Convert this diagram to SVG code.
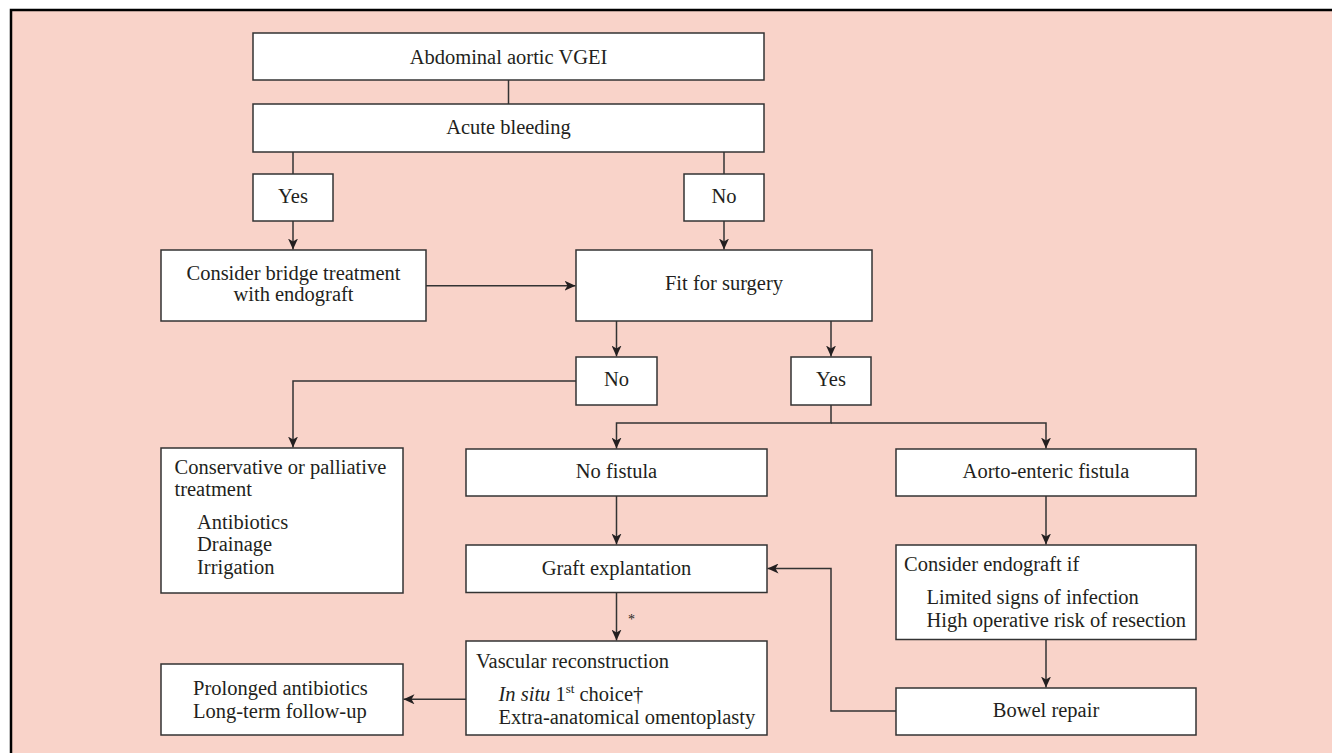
<svg xmlns="http://www.w3.org/2000/svg" width="1332" height="753" viewBox="0 0 1332 753">
<defs>
<style>
.box{fill:#ffffff;stroke:#333333;stroke-width:1.5}
.t{font-family:"Liberation Serif","Times New Roman",serif;font-size:20.5px;fill:#231f20}
.c{text-anchor:middle}
.ln{fill:none;stroke:#333333;stroke-width:1.5}
</style>
<marker id="ah" markerWidth="12" markerHeight="10" refX="11" refY="5" orient="auto" markerUnits="userSpaceOnUse">
<path d="M0,0 L11,5 L0,10 L3,5 Z" fill="#231f20"/>
</marker>
</defs>
<rect x="0" y="0" width="1332" height="753" fill="#ffffff"/>
<rect x="11" y="10" width="1330" height="750" fill="#f9d3c9"/>
<path d="M11,753 V10 H1332" fill="none" stroke="#000000" stroke-width="2.5"/>

<g id="connectors">
<line class="ln" x1="508.5" y1="80" x2="508.5" y2="104"/>
<line class="ln" x1="293" y1="152" x2="293" y2="174"/>
<line class="ln" x1="724" y1="152" x2="724" y2="174"/>
<line class="ln" x1="293" y1="221" x2="293" y2="249.5" marker-end="url(#ah)"/>
<line class="ln" x1="724" y1="221" x2="724" y2="249.5" marker-end="url(#ah)"/>
<line class="ln" x1="426" y1="285.7" x2="575.5" y2="285.7" marker-end="url(#ah)"/>
<line class="ln" x1="616.5" y1="321" x2="616.5" y2="356.5" marker-end="url(#ah)"/>
<line class="ln" x1="831" y1="321" x2="831" y2="356.5" marker-end="url(#ah)"/>
<path class="ln" d="M576,381 H293 V447.5" marker-end="url(#ah)"/>
<path class="ln" d="M831,405 V423 H616.5 V448.5" marker-end="url(#ah)"/>
<path class="ln" d="M831,423 H1046 V448.5" marker-end="url(#ah)"/>
<line class="ln" x1="616.5" y1="496" x2="616.5" y2="544.5" marker-end="url(#ah)"/>
<line class="ln" x1="1046" y1="496" x2="1046" y2="544.5" marker-end="url(#ah)"/>
<line class="ln" x1="1046" y1="639.5" x2="1046" y2="687.5" marker-end="url(#ah)"/>
<path class="ln" d="M896,711 H831 V568.5 H767.5" marker-end="url(#ah)"/>
<line class="ln" x1="616.5" y1="592.5" x2="616.5" y2="640.5" marker-end="url(#ah)"/>
<text class="t" x="628" y="624" font-size="14px" style="font-size:14px">*</text>
<line class="ln" x1="466" y1="699.3" x2="403.5" y2="699.3" marker-end="url(#ah)"/>
</g>

<g id="n-vgei"><rect class="box" x="253" y="33" width="511" height="47"/><text class="t c" x="508.5" y="63.5">Abdominal aortic VGEI</text></g>
<g id="n-acute"><rect class="box" x="253" y="104" width="511" height="48"/><text class="t c" x="508.5" y="134">Acute bleeding</text></g>
<g id="n-yes1"><rect class="box" x="253" y="174" width="80" height="47"/><text class="t c" x="293" y="202.5">Yes</text></g>
<g id="n-no1"><rect class="box" x="684" y="174" width="80" height="47"/><text class="t c" x="724" y="202.5">No</text></g>
<g id="n-bridge"><rect class="box" x="161" y="250" width="265" height="71"/><text class="t c" x="293.5" y="280">Consider bridge treatment</text><text class="t c" x="293.5" y="301">with endograft</text></g>
<g id="n-fit"><rect class="box" x="576" y="250" width="296" height="71"/><text class="t c" x="724" y="290">Fit for surgery</text></g>
<g id="n-no2"><rect class="box" x="576" y="357" width="81" height="48"/><text class="t c" x="616.5" y="386">No</text></g>
<g id="n-yes2"><rect class="box" x="791" y="357" width="80" height="48"/><text class="t c" x="831" y="386">Yes</text></g>
<g id="n-conservative"><rect class="box" x="161" y="448" width="242" height="145"/>
<text class="t" x="174.5" y="474">Conservative or palliative</text>
<text class="t" x="174.5" y="496">treatment</text>
<text class="t" x="197" y="528.5">Antibiotics</text>
<text class="t" x="197" y="551">Drainage</text>
<text class="t" x="197" y="574">Irrigation</text></g>
<g id="n-nofistula"><rect class="box" x="466" y="449" width="301" height="47"/><text class="t c" x="616.5" y="478">No fistula</text></g>
<g id="n-aorto"><rect class="box" x="896" y="449" width="300" height="47"/><text class="t c" x="1046" y="478">Aorto-enteric fistula</text></g>
<g id="n-graft"><rect class="box" x="466" y="545" width="301" height="47.5"/><text class="t c" x="616.5" y="574.5">Graft explantation</text></g>
<g id="n-endograft"><rect class="box" x="896" y="545" width="300" height="94.5"/>
<text class="t" x="904" y="571">Consider endograft if</text>
<text class="t" x="926.5" y="604">Limited signs of infection</text>
<text class="t" x="926.5" y="627">High operative risk of resection</text></g>
<g id="n-bowel"><rect class="box" x="896" y="688" width="300" height="47"/><text class="t c" x="1046" y="716.5">Bowel repair</text></g>
<g id="n-vascular"><rect class="box" x="466" y="641" width="301" height="94"/>
<text class="t" x="476" y="668">Vascular reconstruction</text>
<text class="t" x="498.5" y="701"><tspan font-style="italic">In situ</tspan> 1<tspan dy="-8" style="font-size:13px">st</tspan><tspan dy="8"> choice†</tspan></text>
<text class="t" x="498.5" y="724">Extra-anatomical omentoplasty</text></g>
<g id="n-prolonged"><rect class="box" x="161" y="664" width="242" height="71"/>
<text class="t" x="193" y="695">Prolonged antibiotics</text>
<text class="t" x="193" y="718">Long-term follow-up</text></g>
</svg>
